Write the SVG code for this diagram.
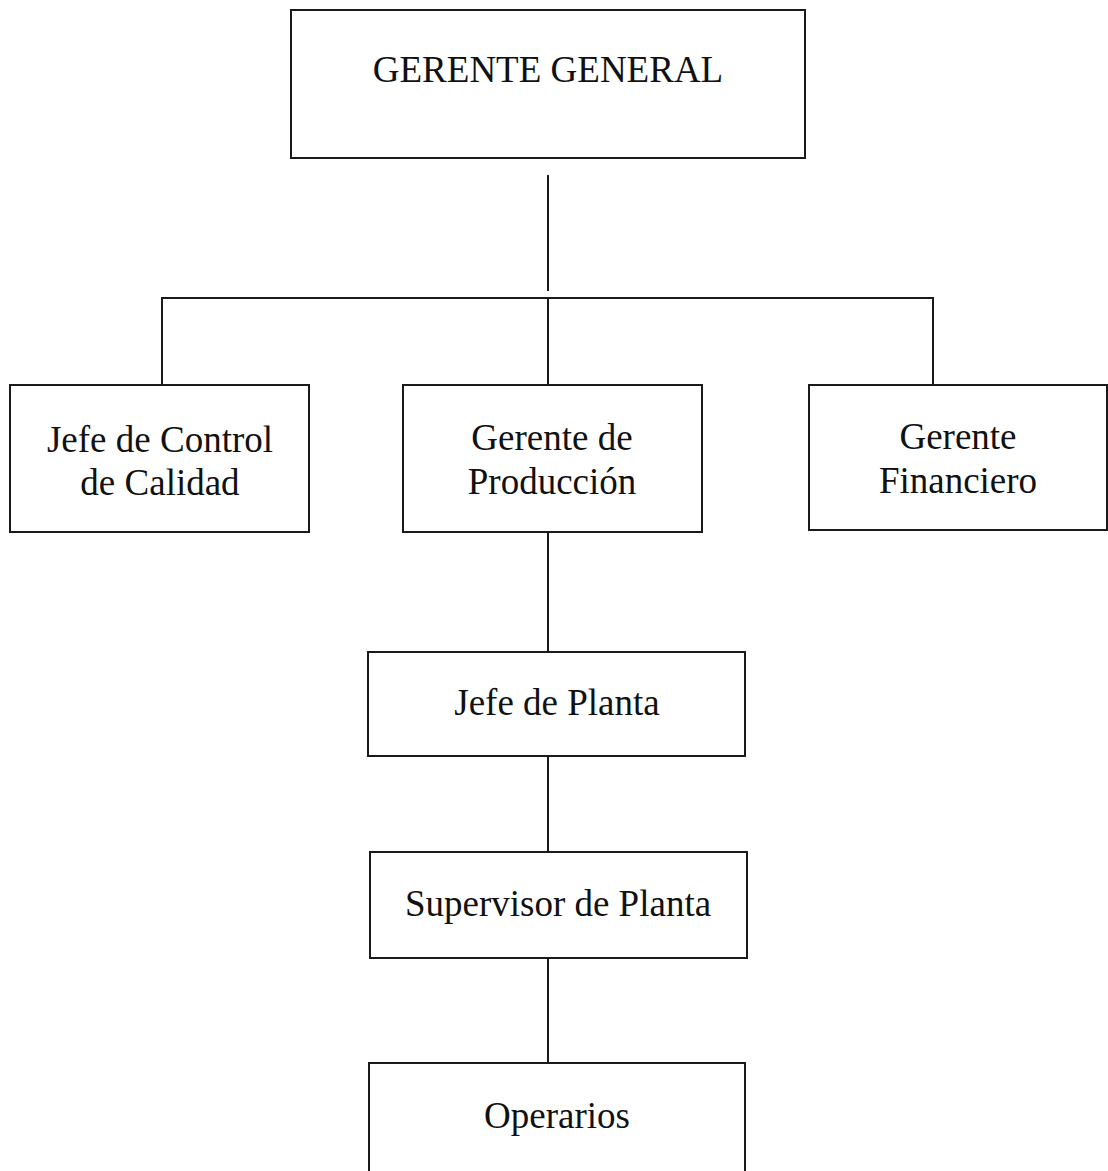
<svg xmlns="http://www.w3.org/2000/svg" width="1108" height="1171" viewBox="0 0 1108 1171">
<style>
.box{fill:#fff;stroke:#1a1a1a;stroke-width:2}
.lbl{font-family:"Liberation Serif","Times New Roman",serif;font-size:37px;fill:#111;text-anchor:middle}
.con{stroke:#1a1a1a;stroke-width:2;fill:none}
</style>
<rect width="1108" height="1171" fill="#fff"/>
<g id="connectors">
<line class="con" x1="548" y1="175" x2="548" y2="291"/>
<polyline class="con" points="162,385 162,298 933,298 933,385"/>
<line class="con" x1="548" y1="298" x2="548" y2="385"/>
<line class="con" x1="548" y1="532" x2="548" y2="652"/>
<line class="con" x1="548" y1="756" x2="548" y2="852"/>
<line class="con" x1="548" y1="958" x2="548" y2="1063"/>
</g>
<g id="gerente-general">
<rect class="box" x="291" y="10" width="514" height="148"/>
<text class="lbl" x="548" y="82">GERENTE GENERAL</text>
</g>
<g id="jefe-control-calidad">
<rect class="box" x="10" y="385" width="299" height="147"/>
<text class="lbl" x="160" y="452">Jefe de Control</text>
<text class="lbl" x="160" y="495">de Calidad</text>
</g>
<g id="gerente-produccion">
<rect class="box" x="403" y="385" width="299" height="147"/>
<text class="lbl" x="552" y="450">Gerente de</text>
<text class="lbl" x="552" y="494">Producción</text>
</g>
<g id="gerente-financiero">
<rect class="box" x="809" y="385" width="298" height="145"/>
<text class="lbl" x="958" y="449">Gerente</text>
<text class="lbl" x="958" y="493">Financiero</text>
</g>
<g id="jefe-planta">
<rect class="box" x="368" y="652" width="377" height="104"/>
<text class="lbl" x="557" y="715">Jefe de Planta</text>
</g>
<g id="supervisor-planta">
<rect class="box" x="370" y="852" width="377" height="106"/>
<text class="lbl" x="558" y="916">Supervisor de Planta</text>
</g>
<g id="operarios">
<rect class="box" x="369" y="1063" width="376" height="120"/>
<text class="lbl" x="557" y="1128">Operarios</text>
</g>
</svg>
